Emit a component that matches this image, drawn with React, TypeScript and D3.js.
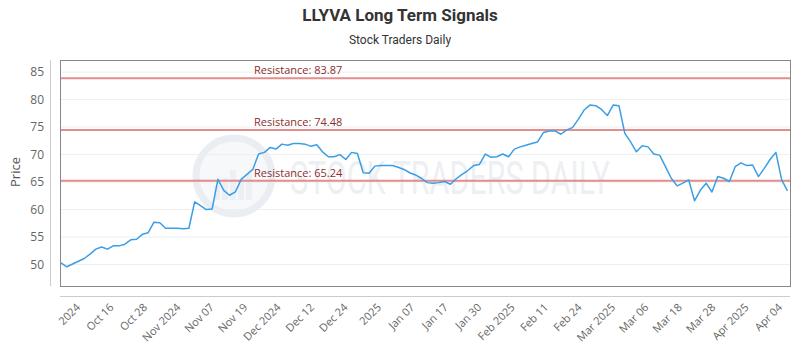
import React, { useEffect, useRef } from "react";
import * as d3 from "d3";

// Daily closing prices
const prices: number[] = [
  50.3, 49.6, 50.1, 50.6, 51.1, 51.9, 52.8, 53.2, 52.8, 53.4,
  53.4, 53.7, 54.5, 54.6, 55.5, 55.8, 57.7, 57.6, 56.6, 56.6,
  56.6, 56.5, 56.6, 61.4, 60.7, 60.0, 60.1, 65.5, 63.5, 62.6,
  63.2, 65.5, 66.4, 67.3, 70.1, 70.4, 71.3, 71.0, 71.9, 71.7,
  72.0, 72.0, 71.9, 71.5, 71.8, 70.5, 69.6, 69.6, 70.0, 69.1,
  70.4, 70.2, 66.7, 66.6, 67.9, 68.0, 68.0, 68.0, 67.7, 67.3,
  66.7, 66.3, 65.7, 64.9, 64.8, 64.9, 65.1, 64.6, 65.6, 66.4,
  67.1, 68.0, 68.2, 70.1, 69.5, 69.6, 70.1, 69.6, 71.0, 71.4,
  71.7, 72.0, 72.3, 74.0, 74.3, 74.3, 73.7, 74.5, 74.9, 76.4,
  78.1, 79.0, 78.9, 78.2, 77.1, 79.0, 78.9, 73.9, 72.3, 70.5,
  71.6, 71.4, 70.1, 69.9, 67.8, 65.7, 64.3, 64.8, 65.4, 61.6,
  63.5, 64.8, 63.2, 66.0, 65.7, 65.1, 67.8, 68.5, 68.0, 68.1,
  66.0, 67.5, 69.1, 70.4, 65.4, 63.4,
];

const xTickLabels: string[] = [
  "2024", "Oct 16", "Oct 28", "Nov 2024", "Nov 07", "Nov 19", "Dec 2024",
  "Dec 12", "Dec 24", "2025", "Jan 07", "Jan 17", "Jan 30", "Feb 2025",
  "Feb 11", "Feb 24", "Mar 2025", "Mar 06", "Mar 18", "Mar 28", "Apr 2025", "Apr 04",
];

const yTickValues: number[] = [50, 55, 60, 65, 70, 75, 80, 85];
const resistanceLevels: number[] = [83.87, 74.48, 65.24];

const titleText = "LLYVA Long Term Signals";
const subtitleText = "Stock Traders Daily";
const yAxisTitle = "Price";
const watermarkText = "STOCK TRADERS DAILY";

const W = 800;
const H = 350;
const P = { left: 60, right: 790, top: 60, bottom: 286 };

export default function App() {
  const ref = useRef<SVGSVGElement | null>(null);

  useEffect(() => {
    document.body.style.margin = "0";
    const svg = d3.select(ref.current);
    svg.selectAll("*").remove();

    const x = d3.scaleLinear().domain([0, prices.length - 1]).range([61, 787.5]);
    const y = d3.scaleLinear().domain([46.1, 87.2]).range([P.bottom, P.top]);
    const xl = d3.scalePoint<string>().domain(xTickLabels).range([81, 783]);

    svg.append("rect").attr("width", W).attr("height", H).attr("fill", "#ffffff");

    // Title & subtitle
    svg.append("text")
      .attr("x", 400).attr("y", 21)
      .attr("text-anchor", "middle")
      .attr("font-family", "Roboto")
      .attr("font-weight", "bold")
      .attr("font-size", 17)
      .attr("fill", "#333333")
      .text(titleText);
    svg.append("text")
      .attr("x", 400).attr("y", 44)
      .attr("text-anchor", "middle")
      .attr("font-family", "Roboto")
      .attr("font-size", 12)
      .attr("fill", "#333333")
      .text(subtitleText);

    // watermark
    const wm = svg.append("g").attr("opacity", 0.55);
    wm.append("circle").attr("cx", 234).attr("cy", 176).attr("r", 38)
      .attr("fill", "#f1f4f7").attr("stroke", "#d9e0e8").attr("stroke-width", 7);
    const bars = [14, 22, 30, 20, 26];
    bars.forEach((h, i) => {
      wm.append("rect")
        .attr("x", 214 + i * 8).attr("y", 200 - h)
        .attr("width", 6).attr("height", h)
        .attr("fill", "#dde3ea");
    });
    wm.append("text")
      .attr("x", 290).attr("y", 194)
      .attr("font-family", "Roboto")
      .attr("font-size", 46)
      .attr("textLength", 320)
      .attr("lengthAdjust", "spacingAndGlyphs")
      .attr("fill", "#dfe4ea")
      .text(watermarkText);

    // gridlines
    svg.append("g").selectAll("line").data(yTickValues).enter().append("line")
      .attr("x1", P.left).attr("x2", P.right)
      .attr("y1", (d) => y(d)).attr("y2", (d) => y(d))
      .attr("stroke", "#eeeeee").attr("stroke-width", 1);

    // plot border
    svg.append("rect")
      .attr("x", P.left + 0.5).attr("y", P.top + 0.5)
      .attr("width", P.right - P.left).attr("height", P.bottom - P.top)
      .attr("fill", "none").attr("stroke", "#888888").attr("stroke-width", 1);

    // outer axis lines
    svg.append("line").attr("x1", 50.5).attr("x2", 50.5).attr("y1", P.top).attr("y2", P.bottom)
      .attr("stroke", "#cccccc");
    svg.append("line").attr("x1", P.left).attr("x2", P.right).attr("y1", 296.5).attr("y2", 296.5)
      .attr("stroke", "#cccccc");

    // y tick labels
    svg.append("g").selectAll("text").data(yTickValues).enter().append("text")
      .attr("x", 44).attr("y", (d) => y(d) + 4)
      .attr("text-anchor", "end")
      .attr("font-family", "Open Sans")
      .attr("font-size", 12)
      .attr("fill", "#666666")
      .text((d) => String(d));

    svg.append("text")
      .attr("transform", "translate(20,172) rotate(-90)")
      .attr("text-anchor", "middle")
      .attr("font-family", "Open Sans")
      .attr("font-size", 13)
      .attr("fill", "#555555")
      .text(yAxisTitle);

    // x tick labels
    svg.append("g").selectAll("text").data(xTickLabels).enter().append("text")
      .attr("transform", (d) => `translate(${xl(d)},${308}) rotate(-45)`)
      .attr("text-anchor", "end")
      .attr("font-family", "Open Sans")
      .attr("font-size", 11)
      .attr("fill", "#666666")
      .text((d) => d);

    // resistance lines
    const rg = svg.append("g");
    resistanceLevels.forEach((r) => {
      rg.append("line")
        .attr("x1", P.left + 1).attr("x2", P.right)
        .attr("y1", y(r)).attr("y2", y(r))
        .attr("stroke", "#e07a7a").attr("stroke-width", 2).attr("opacity", 0.85);
      rg.append("text")
        .attr("x", 254).attr("y", y(r) - 4)
        .attr("font-family", "Open Sans")
        .attr("font-size", 11)
        .attr("fill", "#8b2e2e")
        .text(`Resistance: ${r.toFixed(2)}`);
    });

    // price line
    const line = d3.line<number>()
      .x((_, i) => x(i))
      .y((d) => y(d));
    svg.append("path")
      .datum(prices)
      .attr("d", line)
      .attr("fill", "none")
      .attr("stroke", "#3a9ee6")
      .attr("stroke-width", 1.5)
      .attr("stroke-linejoin", "round");
  }, []);

  return (
    <svg
      ref={ref}
      width={W}
      height={H}
      style={{ display: "block", position: "absolute", left: 0, top: 0 }}
    />
  );
}
